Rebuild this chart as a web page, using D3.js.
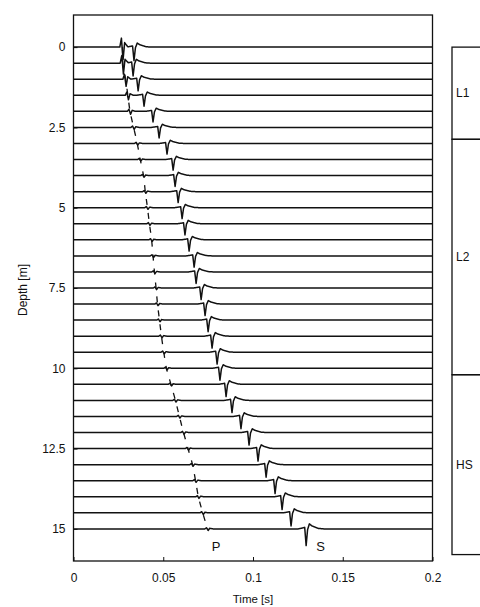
<!DOCTYPE html>
<html><head><meta charset="utf-8">
<script src="https://cdn.jsdelivr.net/npm/d3@7/dist/d3.min.js"></script>
<style>
body{margin:0;background:#fff}
svg{display:block}
text{font-family:"Liberation Sans",Arial,Helvetica,sans-serif;fill:#111}
</style>
</head><body>
<svg id="chart" width="480" height="607"></svg>
<script>
// ---- data ----
const depths = [0,0.5,1,1.5,2,2.5,3,3.5,4,4.5,5,5.5,6,6.5,7,7.5,8,8.5,9,9.5,10,10.5,11,11.5,12,12.5,13,13.5,14,14.5,15];
const pTimes = [0.0273,0.0275,0.0290,0.0303,0.0315,0.0335,0.0355,0.0372,0.0390,0.0400,0.0412,0.0423,0.0435,0.0443,0.0451,0.0460,0.0468,0.0479,0.0490,0.0503,0.0518,0.0543,0.0568,0.0590,0.0613,0.0638,0.0663,0.0680,0.0696,0.0720,0.0747];
const sTimes = [0.0334,0.0329,0.0357,0.0390,0.0440,0.0474,0.0518,0.0552,0.0563,0.0580,0.0602,0.0618,0.0641,0.0669,0.0680,0.0708,0.0730,0.0747,0.0769,0.0797,0.0813,0.0847,0.0880,0.0930,0.0975,0.1025,0.1070,0.1120,0.1159,0.1209,0.1293];
const pAmps = [0.4,0.34,0.22,0.14,0.09,0.06,0.05,0.05,0.05,0.05,0.05,0.05,0.05,0.05,0.05,0.05,0.05,0.05,0.05,0.05,0.05,0.05,0.05,0.05,0.05,0.05,0.05,0.05,0.05,0.05,0.05];
const sAmps = [0.42,0.40,0.36,0.34,0.33,0.33,0.33,0.33,0.34,0.34,0.34,0.35,0.35,0.35,0.36,0.36,0.36,0.36,0.37,0.37,0.37,0.38,0.38,0.38,0.39,0.39,0.39,0.40,0.40,0.41,0.52];
// wavelet shapes: [time offset (s), relative amplitude]
const sWavelet = [[-0.004,0],[-0.0015,-0.06],[-0.0005,-0.09],[0.0003,1.0],[0.0011,0.05],[0.0021,-0.3],[0.0035,-0.18],[0.007,-0.03],[0.010,0]];
const pWavelet = [[-0.0015,0],[-0.0006,-0.7],[0.0003,1.0],[0.0012,-0.35],[0.003,0]];
const xTicks = [0,0.05,0.1,0.15,0.2];
const yTicks = [0,2.5,5,7.5,10,12.5,15];
const layerNames = ["L1","L2","HS"];
const layerTops = [0,2.87,10.2];
const layerBottoms = [2.87,10.2,15.8];
const phaseLabels = ["P","S"];
const phaseLabelTimes = [0.0795,0.1376];
const phaseLabelDepth = 15.55;

// ---- drawing ----
const svg = d3.select("#chart");
const x = d3.scaleLinear().domain([0,0.2]).range([73.5,432.5]);
const y = d3.scaleLinear().domain([-1,16]).range([15,561]);

function interp(w, dt){
  if (dt <= w[0][0] || dt >= w[w.length-1][0]) return 0;
  for (let k=1;k<w.length;k++){
    if (dt <= w[k][0]){
      const a=w[k-1], b=w[k];
      return a[1] + (b[1]-a[1])*(dt-a[0])/(b[0]-a[0]);
    }
  }
  return 0;
}
const grid = d3.range(0, 0.20001, 0.0001);
const line = d3.line().x(d=>x(d[0])).y(d=>y(d[1]));

const traces = svg.append("g");
depths.forEach((dep,i)=>{
  const pts = grid.map(t=>[t, dep + pAmps[i]*interp(pWavelet, t-pTimes[i]) + sAmps[i]*interp(sWavelet, t-sTimes[i])]);
  traces.append("path").attr("d", line(pts))
    .attr("fill","none").attr("stroke","#111").attr("stroke-width",1.5).attr("stroke-linejoin","round");
});

// dashed P-arrival curve
const pLine = d3.line().x(d=>x(d[0])).y(d=>y(d[1])).curve(d3.curveMonotoneY);
svg.append("path")
  .attr("d", pLine(depths.map((d,i)=>[pTimes[i], d])))
  .attr("fill","none").attr("stroke","#111").attr("stroke-width",1.3).attr("stroke-dasharray","6,8");

// frame
svg.append("rect").attr("x",x(0)).attr("y",y(-1)).attr("width",x(0.2)-x(0)).attr("height",y(16)-y(-1))
  .attr("fill","none").attr("stroke","#111").attr("stroke-width",1.3);

// axes
const xAxis = d3.axisBottom(x).tickValues(xTicks).tickSizeInner(-4).tickSizeOuter(0).tickPadding(12)
  .tickFormat(d=>d===0?"0":String(d));
const gx = svg.append("g").attr("transform",`translate(0,${y(16)})`).call(xAxis);
const yAxis = d3.axisLeft(y).tickValues(yTicks).tickSizeInner(-4).tickSizeOuter(0).tickPadding(8)
  .tickFormat(d=>String(d));
const gy = svg.append("g").attr("transform",`translate(${x(0)},0)`).call(yAxis);
[gx,gy].forEach(g=>{
  g.select(".domain").remove();
  g.selectAll(".tick line").attr("stroke","#111");
  g.selectAll(".tick text").attr("font-size",12).attr("fill","#111")
    .style("font-family",'"Liberation Sans",Arial,sans-serif');
});

svg.append("text").attr("x",(x(0)+x(0.2))/2).attr("y",603).attr("text-anchor","middle")
  .attr("font-size",11.5).text("Time [s]");
svg.append("text").attr("transform","translate(27,290) rotate(-90)").attr("text-anchor","middle")
  .attr("font-size",12).text("Depth [m]");

// phase labels
phaseLabels.forEach((lab,i)=>{
  svg.append("text").attr("x",x(phaseLabelTimes[i])).attr("y",y(phaseLabelDepth))
    .attr("text-anchor","middle").attr("dominant-baseline","central")
    .attr("font-size",13).text(lab);
});

// layer column
const gl = svg.append("g");
layerNames.forEach((n,i)=>{
  gl.append("rect").attr("x",452).attr("y",y(layerTops[i]))
    .attr("width",40).attr("height",y(layerBottoms[i])-y(layerTops[i]))
    .attr("fill","none").attr("stroke","#111").attr("stroke-width",1.3);
  gl.append("text").attr("x",456).attr("y",(y(layerTops[i])+y(layerBottoms[i]))/2)
    .attr("dominant-baseline","central").attr("font-size",12).text(n);
});
</script>
</body></html>
